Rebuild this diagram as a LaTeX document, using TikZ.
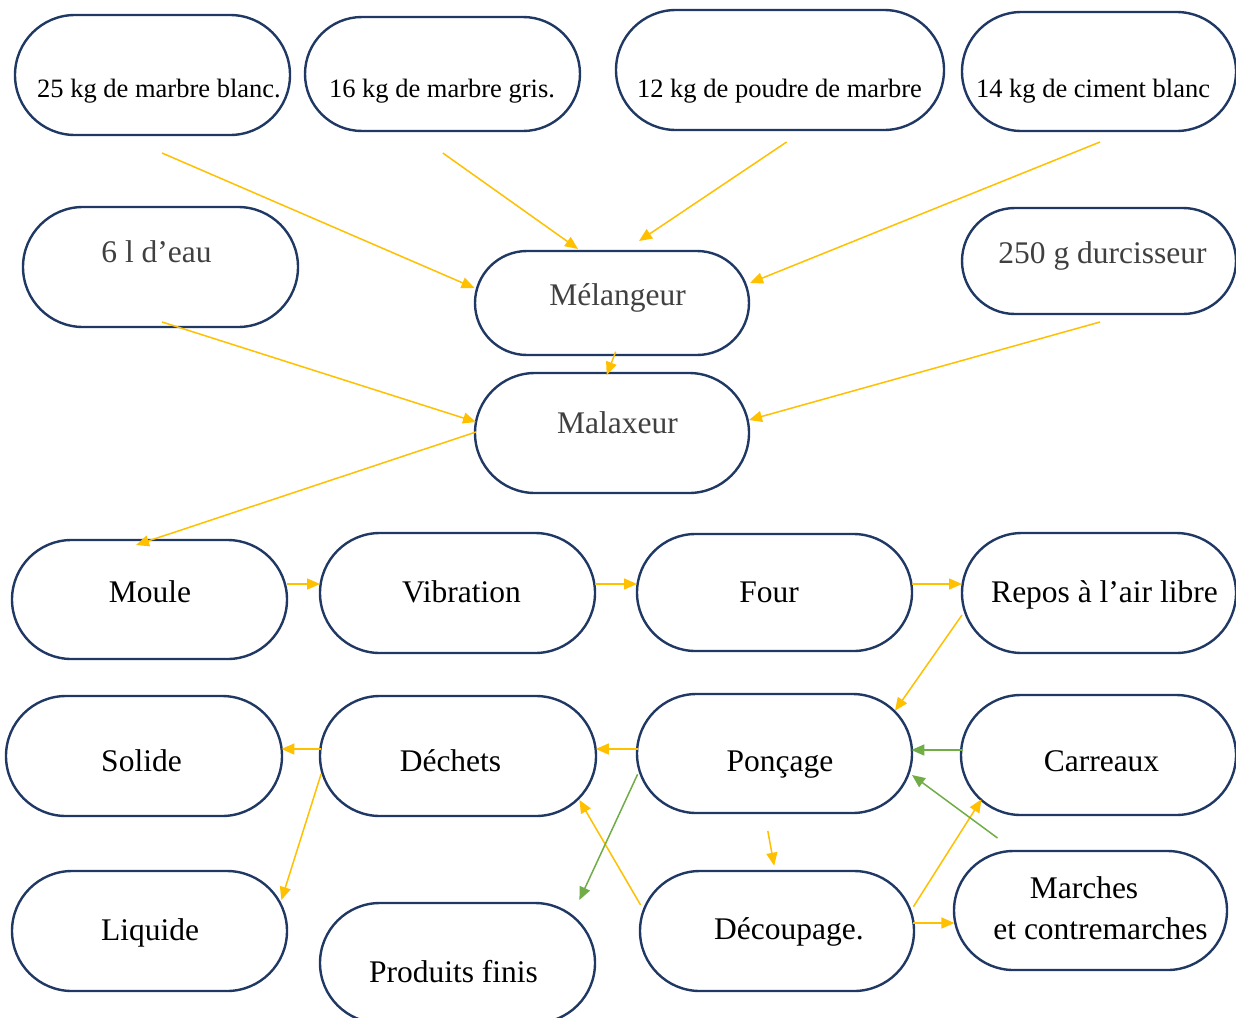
\documentclass[tikz,border=0pt]{standalone}
\usepackage{fontspec}
\setmainfont{Liberation Serif}
\usetikzlibrary{shapes.misc,arrows.meta,calc}
\definecolor{navy}{HTML}{203864}
\definecolor{amber}{HTML}{FFC000}
\definecolor{leaf}{HTML}{70AD47}
\definecolor{greytxt}{HTML}{404040}
\tikzset{
  box/.style={draw=navy, line width=2.4pt, rounded rectangle, rounded rectangle arc length=180,
    minimum width=275pt, minimum height=120pt, inner sep=0pt, fill=white},
  bigtxt/.style={font=\fontsize{31.5}{36}\selectfont, anchor=base, inner sep=0pt},
  smalltxt/.style={font=\fontsize{26.5}{30}\selectfont, anchor=base, inner sep=0pt},
  ya/.style={draw=amber, line width=1.5pt, -{Triangle[length=13pt,width=11pt]}},
  ga/.style={draw=leaf, line width=1.5pt, -{Triangle[length=13pt,width=11pt]}}
}
\begin{document}
\begin{tikzpicture}[x=1pt,y=-1pt]
\clip (0,0) rectangle (1236,1017);
\fill[white] (0,0) rectangle (1236,1017);
% boxes
\node[box] (A) at (152.5,75) {};
\node[box, minimum height=114pt] (B) at (442.5,74) {};
\node[box, minimum width=328pt] (C) at (780,70) {};
\node[box, minimum width=274pt, minimum height=119pt] (D) at (1099,71.5) {};
\node[box] (E) at (160.5,267) {};
\node[box, minimum width=274pt, minimum height=106pt] (F) at (1099,261) {};
\node[box, minimum width=274pt, minimum height=104pt] (mel) at (612,303) {};
\node[box, minimum width=274pt] (mal) at (612,433) {};
\node[box, minimum height=119pt] (moule) at (149.5,599.5) {};
\node[box] (vib) at (457.5,593) {};
\node[box, minimum height=117pt] (four) at (774.5,592.5) {};
\node[box, minimum width=274pt] (repos) at (1099,593) {};
\node[box, minimum width=276pt] (solide) at (144,756) {};
\node[box, minimum width=276pt] (dechets) at (458,756) {};
\node[box, minimum height=119pt] (poncage) at (774.5,753.5) {};
\node[box] (carreaux) at (1098.5,755) {};
\node[box] (liquide) at (149.5,931) {};
\node[box] (produits) at (457.5,963) {};
\node[box, minimum width=274pt] (decoupage) at (777,931) {};
\node[box, minimum width=273pt, minimum height=119pt] (marches) at (1090.5,910.5) {};
% texts
\node[smalltxt] (A-t) at (159,97) {25 kg de marbre blanc.};
\node[smalltxt] (B-t) at (442,97) {16 kg de marbre gris.};
\node[smalltxt] (C-t) at (779.5,97) {12 kg de poudre de marbre};
\node[smalltxt] (D-t) at (1093,97) {14 kg de ciment blanc};
\node[bigtxt, text=greytxt] (E-t) at (156.5,262) {6 l d’eau};
\node[bigtxt, text=greytxt] (F-t) at (1102.5,263) {250 g durcisseur};
\node[bigtxt, text=greytxt] (mel-t) at (617.5,305) {Mélangeur};
\node[bigtxt, text=greytxt] (mal-t) at (617.5,433) {Malaxeur};
\node[bigtxt] (moule-t) at (150,602) {Moule};
\node[bigtxt] (vib-t) at (461.5,602) {Vibration};
\node[bigtxt] (four-t) at (769,602) {Four};
\node[bigtxt] (repos-t) at (1104.5,602) {Repos à l’air libre};
\node[bigtxt] (solide-t) at (141.5,771) {Solide};
\node[bigtxt] (dechets-t) at (450.5,771) {Déchets};
\node[bigtxt] (poncage-t) at (780,771) {Ponçage};
\node[bigtxt] (carreaux-t) at (1101.5,771) {Carreaux};
\node[bigtxt] (liquide-t) at (150,940) {Liquide};
\node[bigtxt] (produits-t) at (453.5,982) {Produits finis};
\node[bigtxt] (decoupage-t) at (789,939) {Découpage.};
\node[bigtxt] (marches-t1) at (1084,898) {Marches};
\node[bigtxt] (marches-t2) at (1100.5,939) {et contremarches};
% free ends
\coordinate (a-out) at (162,153);
\coordinate (b-out) at (442.8,153);
\coordinate (c-out) at (786.6,142);
\coordinate (d-out) at (1100,142);
\coordinate (e-out) at (162,322);
\coordinate (f-out) at (1100,322);
\coordinate (p-out) at (767.8,831);
\coordinate (m-out) at (997.5,838);
% yellow arrows
\draw[ya] (a-out) -- ($(mel)+(-137.5,-15)$);
\draw[ya] (b-out) -- ($(mel)+(-34,-54)$);
\draw[ya] (c-out) -- ($(mel)+(27,-62)$);
\draw[ya] (d-out) -- ($(mel)+(138,-20)$);
\draw[ya] (e-out) -- ($(mal)+(-136,-11)$);
\draw[ya] (f-out) -- ($(mal)+(137,-13)$);
\draw[ya] ($(mel)+(3.7,48.7)$) -- ($(mal)+(-5.3,-58)$);
\draw[ya] ($(mal)+(-136,-1)$) -- ($(moule)+(-13.5,-54.5)$);
\draw[ya] ($(moule)+(137.5,-15.5)$) -- ($(vib)+(-137.5,-9)$);
\draw[ya] ($(vib)+(137.5,-9)$) -- ($(four)+(-137.5,-8.5)$);
\draw[ya] ($(four)+(137.5,-8.5)$) -- ($(repos)+(-137,-9)$);
\draw[ya] ($(repos)+(-137,22)$) -- ($(poncage)+(120.5,-42.8)$);
\draw[ya] ($(poncage)+(-137,-4.5)$) -- ($(dechets)+(137.8,-7)$);
\draw[ya] ($(dechets)+(-137,-7)$) -- ($(solide)+(137.4,-7)$);
\draw[ya] ($(dechets)+(-137,18.3)$) -- ($(liquide)+(131.9,-31)$);
\draw[ya] (p-out) -- ($(decoupage)+(-2.8,-65.3)$);
\draw[ya] ($(decoupage)+(-136.4,-26)$) -- ($(dechets)+(121.4,44)$);
\draw[ya] ($(decoupage)+(136.4,-24.3)$) -- ($(carreaux)+(-117,44.3)$);
\draw[ya] ($(decoupage)+(136.4,-8)$) -- ($(marches)+(-136.1,12.5)$);
% green arrows
\draw[ga] ($(carreaux)+(-135.5,-5)$) -- ($(poncage)+(136.8,-3.5)$);
\draw[ga] (m-out) -- ($(poncage)+(137.5,21.5)$);
\draw[ga] ($(poncage)+(-136.9,20.8)$) -- ($(produits)+(121.9,-63)$);
\end{tikzpicture}
\end{document}
